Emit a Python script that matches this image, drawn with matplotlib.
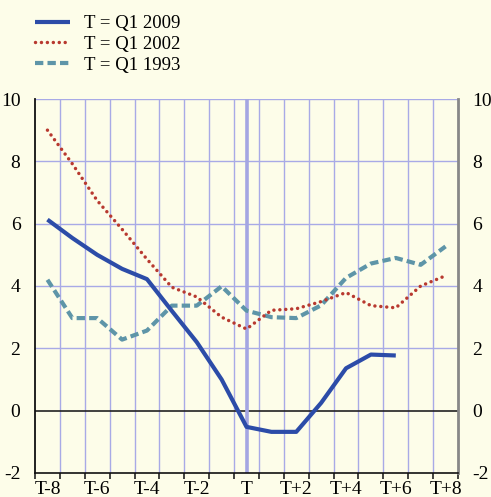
import matplotlib.pyplot as plt
import numpy as np

plt.rcParams["font.family"] = ["Liberation Serif", "DejaVu Serif"]
plt.rcParams["axes.unicode_minus"] = False

quarters = ["T-8", "T-7", "T-6", "T-5", "T-4", "T-3", "T-2", "T-1", "T",
            "T+1", "T+2", "T+3", "T+4", "T+5", "T+6", "T+7", "T+8"]
q1_2009 = [6.13, 5.54, 5.0, 4.55, 4.22, 3.2, 2.2, 1.0, -0.52,
           -0.68, -0.68, 0.25, 1.36, 1.8, 1.77]
q1_2002 = [9.0, 7.92, 6.74, 5.82, 4.86, 3.96, 3.65, 3.0, 2.62,
           3.22, 3.27, 3.5, 3.79, 3.37, 3.3, 4.0, 4.33]
q1_1993 = [4.2, 2.97, 2.97, 2.28, 2.57, 3.37, 3.37, 3.99, 3.21,
           3.0, 2.97, 3.38, 4.26, 4.72, 4.9, 4.68, 5.27]

bg = "#fdfde9"
grid_col = "#a8aae6"

fig = plt.figure(figsize=(4.91, 4.97), dpi=100, facecolor=bg)
ax = fig.add_axes([0.0713, 0.0483, 0.8615, 0.7525], facecolor=bg)

n = len(quarters)
x = np.arange(n)

# grid: vertical lines at category boundaries, horizontal every 2
for b in np.arange(0.5, n - 1, 1.0):
    ax.axvline(b, color=grid_col, lw=1.0, zorder=1)
for v in [2, 4, 6, 8, 10]:
    ax.axhline(v, color=grid_col, lw=1.0, zorder=1)
ax.axhline(0, color="#222222", lw=1.2, zorder=2)
ax.axvline(8, color="#a4a6e2", lw=2.6, zorder=2)

ax.plot(x[:len(q1_2009)], q1_2009, color="#2c4ca8", lw=3.0,
        solid_capstyle="butt", label="T = Q1 2009", zorder=5)
ax.plot(x, q1_2002, color="#b8392f", lw=2.5, linestyle=(0, (0.01, 1.7)),
        dash_capstyle="round", label="T = Q1 2002", zorder=4)
ax.plot(x, q1_1993, color="#5e95a8", lw=3.0, linestyle=(0, (2.0, 1.0)),
        label="T = Q1 1993", zorder=3)

ax.set_xlim(-0.5, n - 0.5)
ax.set_ylim(-2, 10)

ax.set_xticks(np.arange(-0.5, n, 1.0))
ax.set_xticklabels([])
ax.set_xticks(x[::2], minor=True)
ax.set_xticklabels(quarters[::2], minor=True)
ax.tick_params(axis="x", which="major", direction="out", length=4, width=1.2,
               color="#222222")
ax.tick_params(axis="x", which="minor", length=0, labelsize=14, pad=6)

ax.set_yticks(np.arange(-2, 11, 2))
ax.tick_params(axis="y", which="both", left=False, right=False,
               labelleft=True, labelright=True, labelsize=14, pad=7)

ax.spines["top"].set_visible(False)
ax.spines["left"].set_color("#111111")
ax.spines["left"].set_linewidth(1.3)
ax.spines["bottom"].set_color("#111111")
ax.spines["bottom"].set_linewidth(1.2)
ax.spines["right"].set_color("#888888")
ax.spines["right"].set_linewidth(2.0)

ax.legend(loc="upper left", bbox_to_anchor=(0.057, 0.985),
          bbox_transform=fig.transFigure, frameon=False, fontsize=13.5,
          handlelength=1.85, handletextpad=0.75, labelspacing=0.2,
          borderaxespad=0)

fig.savefig("out.png", dpi=100, facecolor=bg)
